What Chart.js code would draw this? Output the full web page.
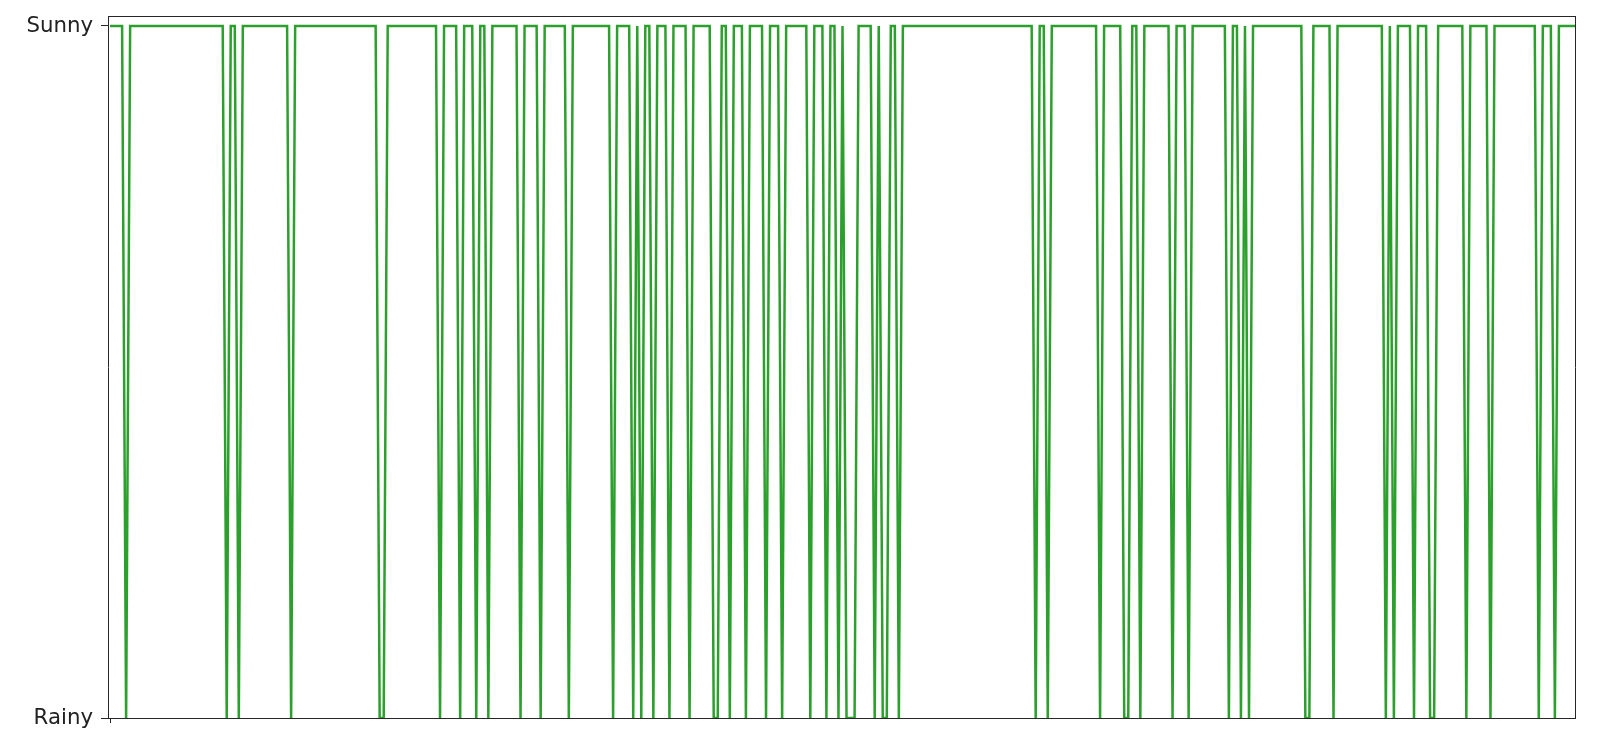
<!DOCTYPE html>
<html>
<head>
<meta charset="utf-8">
<script src="https://cdn.jsdelivr.net/npm/chart.js@4"></script>
<style>
  html, body { margin: 0; padding: 0; background: #ffffff; }
  #wrap { width: 1600px; height: 746px; }
</style>
</head>
<body>
<div id="wrap"><canvas id="c" width="1600" height="746"></canvas></div>
<script>
// ---- data ----
const weatherStates = ['Rainy', 'Sunny'];   // y tick labels (0, 1)
const dayCount = 365;                        // days 0 .. 364
const rainyDays = [4, 29, 32, 45, 67, 68, 82, 87, 91, 94, 102, 107, 114, 125, 130,
  132, 135, 139, 144, 150, 151, 154, 158, 163, 167, 174, 178, 181, 183, 184, 185,
  190, 192, 193, 196, 230, 233, 246, 252, 253, 256, 264, 268, 278, 281, 283, 297,
  298, 304, 317, 319, 324, 328, 329, 337, 343, 355, 359];
const xTickValues = [0];

// build the day-by-day series (1 = Sunny, 0 = Rainy)
const days = [];
const weather = [];
for (let d = 0; d < dayCount; d++) {
  days.push(d);
  weather.push(rainyDays.includes(d) ? 0 : 1);
}
const points = days.map((d, i) => ({ x: d, y: weather[i] }));

const axisColor = '#262626';
const textColor = '#222222';
const noPad = s => { s.paddingTop = 0; s.paddingBottom = 0; s.paddingLeft = 0; s.paddingRight = 0; };

new Chart(document.getElementById('c').getContext('2d'), {
  type: 'line',
  data: {
    datasets: [{
      data: points,
      borderColor: '#2ca02c',
      borderWidth: 2.5,
      pointRadius: 0,
      tension: 0,
      fill: false
    }]
  },
  options: {
    responsive: false,
    animation: false,
    plugins: { legend: { display: false }, tooltip: { enabled: false } },
    layout: { padding: { top: 16, right: 25, left: 0, bottom: 0 } },
    scales: {
      x: {
        type: 'linear', position: 'bottom', min: -0.5, max: 364,
        afterBuildTicks: s => { s.ticks = xTickValues.map(v => ({ value: v })); },
        ticks: { callback: () => '', font: { size: 1 } },
        grid: { drawOnChartArea: false, tickLength: 5, color: axisColor, lineWidth: 1 },
        border: { display: true, color: axisColor, width: 1 },
        afterFit: s => { s.height = 28; noPad(s); }
      },
      y: {
        type: 'linear', position: 'left', min: 0, max: 1.0144,
        afterBuildTicks: s => { s.ticks = [{ value: 0 }, { value: 1 }]; },
        ticks: {
          callback: v => weatherStates[v],
          font: { family: 'DejaVu Sans', size: 21.3 },
          color: textColor,
          padding: 8
        },
        grid: { drawOnChartArea: false, tickLength: 7, color: axisColor, lineWidth: 1 },
        border: { display: true, color: axisColor, width: 1 },
        afterFit: s => { s.width = 108; noPad(s); }
      },
      xTop: {
        type: 'linear', position: 'top', min: -0.5, max: 364,
        ticks: { display: false },
        grid: { display: false },
        border: { display: true, color: axisColor, width: 1 },
        afterFit: s => { s.height = 0; noPad(s); }
      },
      yRight: {
        type: 'linear', position: 'right', min: 0, max: 1.0144,
        ticks: { display: false },
        grid: { display: false },
        border: { display: true, color: axisColor, width: 1 },
        afterFit: s => { s.width = 0; noPad(s); }
      }
    }
  }
});
</script>
</body>
</html>
